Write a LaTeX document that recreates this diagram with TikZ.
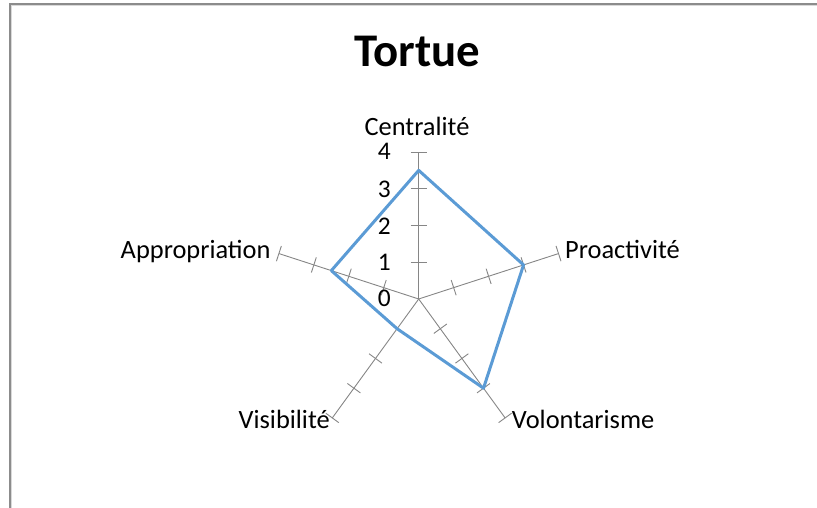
\documentclass[tikz,border=0pt]{standalone}
\usepackage{fontspec}
\setmainfont{Carlito}
\usetikzlibrary{calc}
\definecolor{axisgray}{HTML}{868686}
\definecolor{framegray}{HTML}{8C8C8C}
\definecolor{framelight}{HTML}{D9D9D9}
\definecolor{serieblue}{HTML}{5B9BD5}
\begin{document}
\begin{tikzpicture}[x=1bp,y=1bp,
  axisline/.style={draw=axisgray, line width=0.9bp},
  dataline/.style={draw=serieblue, line width=3bp, line join=round},
  lbl/.style={inner sep=0pt, font=\fontsize{26.5}{30}\selectfont},
  numlbl/.style={inner sep=0pt, font=\fontsize{25.5}{30}\selectfont},
  titlelbl/.style={inner sep=0pt, font=\fontsize{47}{52}\selectfont\bfseries}]
\useasboundingbox (0,0) rectangle (817,508);
% frame
\draw[framelight, line width=1.2bp] (11.2,0) -- (11.2,502.8) -- (817,502.8);
\draw[framegray, line width=2bp] (9.5,0) -- (9.5,504.3) -- (817,504.3);
% title
\node[titlelbl, anchor=base] (title) at (417,441.3) {Tortue};
% axes
\coordinate (O) at (418.7,209);
\def\U{36.75}
\foreach \a/\n in {90/c,18/p,-54/vo,-126/vi,162/ap}{
  \coordinate (\n) at ($(O)+(\a:4*\U)$);
  \draw[axisline] (O) -- (\n);
  \foreach \k in {1,...,4}{
    \draw[axisline] ($(O)+(\a:\k*\U)+(\a+90:8)$) -- ($(O)+(\a:\k*\U)+(\a-90:8)$);
  }
}
% data
\coordinate (d1) at ($(O)+(90:3.5*\U)$);
\coordinate (d2) at ($(O)+(18:3*\U)$);
\coordinate (d3) at ($(O)+(-54:3*\U)$);
\coordinate (d4) at ($(O)+(-126:1*\U)$);
\coordinate (d5) at ($(O)+(162:2.5*\U)$);
\draw[dataline] (d1) -- (d2) -- (d3) -- (d4) -- (d5) -- cycle;
% scale numbers
\node[numlbl, anchor=base east] (n4) at (391,348) {4};
\node[numlbl, anchor=base east] (n3) at (391,310.3) {3};
\node[numlbl, anchor=base east] (n2) at (391,273.7) {2};
\node[numlbl, anchor=base east] (n1) at (391,237.3) {1};
\node[numlbl, anchor=base east] (n0) at (391,201.3) {0};
% axis labels
\node[lbl, anchor=base] (lc) at (417,372) {Centralité};
\node[lbl, anchor=base west] (lp) at (565,249.7) {Proactivité};
\node[lbl, anchor=base east] (lap) at (270.7,249.7) {Appropriation};
\node[lbl, anchor=base east] (lvi) at (330,79.7) {Visibilité};
\node[lbl, anchor=base west] (lvo) at (511.7,79.7) {Volontarisme};
\end{tikzpicture}
\end{document}
